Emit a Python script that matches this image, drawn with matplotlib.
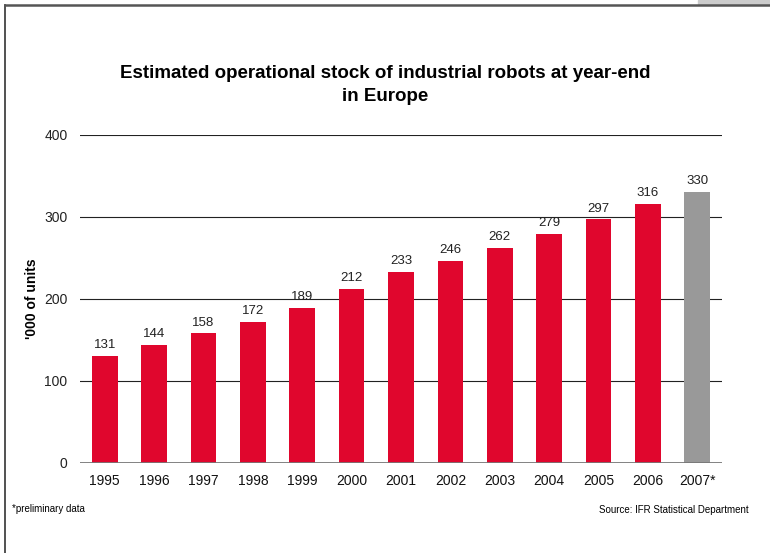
import matplotlib
matplotlib.use("Agg")
import matplotlib.pyplot as plt
from matplotlib.lines import Line2D
from matplotlib.patches import Rectangle

years = ["1995", "1996", "1997", "1998", "1999", "2000", "2001",
         "2002", "2003", "2004", "2005", "2006", "2007*"]
stock = [131, 144, 158, 172, 189, 212, 233, 246, 262, 279, 297, 316, 330]
colors = ["#e0062d"] * 12 + ["#999999"]
yticks = [0, 100, 200, 300, 400]

plt.rcParams["font.family"] = ["Liberation Sans", "DejaVu Sans"]

W, H = 770, 553
fig = plt.figure(figsize=(W / 100, H / 100), dpi=100)
ax = fig.add_axes([80 / W, 1 - 463 / H, 642 / W, 328 / H])

x = list(range(len(years)))
bars = ax.bar(x, stock, width=0.52, color=colors, zorder=3)
for xi, v in zip(x, stock):
    ax.text(xi, v + 6, str(v), ha="center", va="bottom", fontsize=9.5, color="#222222")

ax.set_xlim(-0.5, len(years) - 0.5)
ax.set_ylim(0, 400)
ax.set_yticks(yticks)
ax.set_yticklabels([str(t) for t in yticks], fontsize=10, color="#222222")
ax.set_xticks(x)
ax.set_xticklabels(years, fontsize=10, color="#111111")
ax.tick_params(axis="both", length=0, pad=8)
ax.tick_params(axis="y", pad=9)
for t in yticks[1:]:
    ax.axhline(t, color="#222222", linewidth=0.8, zorder=1)
for s in ax.spines.values():
    s.set_visible(False)
ax.axhline(0, color="#777777", linewidth=2, zorder=4)
ax.set_ylabel("'000 of units", fontsize=10, fontweight="bold", va="center")
ax.yaxis.set_label_coords((32 - 80) / 642, 0.5)

fig.text(0.5, 1 - 85 / H, "Estimated operational stock of industrial robots at year-end\nin Europe",
         ha="center", va="center", fontsize=13.5, fontweight="bold", linespacing=1.4)
fig.text(12 / W, 1 - 509 / H, "*preliminary data", fontsize=7, ha="left", va="center")
fig.text(749 / W, 1 - 510 / H, "Source: IFR Statistical Department", fontsize=7,
         ha="right", va="center")

# page frame lines and corner tab
fig.add_artist(Line2D([5 / W, 5 / W], [0, 1 - 5 / H], color="#333333", linewidth=1.2,
                      transform=fig.transFigure))
fig.add_artist(Line2D([5 / W, 1], [1 - 5 / H, 1 - 5 / H], color="#555555", linewidth=1.8,
                      transform=fig.transFigure))
fig.add_artist(Rectangle((698 / W, 1 - 4 / H), 72 / W, 4 / H, color="#cccccc",
                         transform=fig.transFigure))

fig.savefig("out.png", dpi=100)
